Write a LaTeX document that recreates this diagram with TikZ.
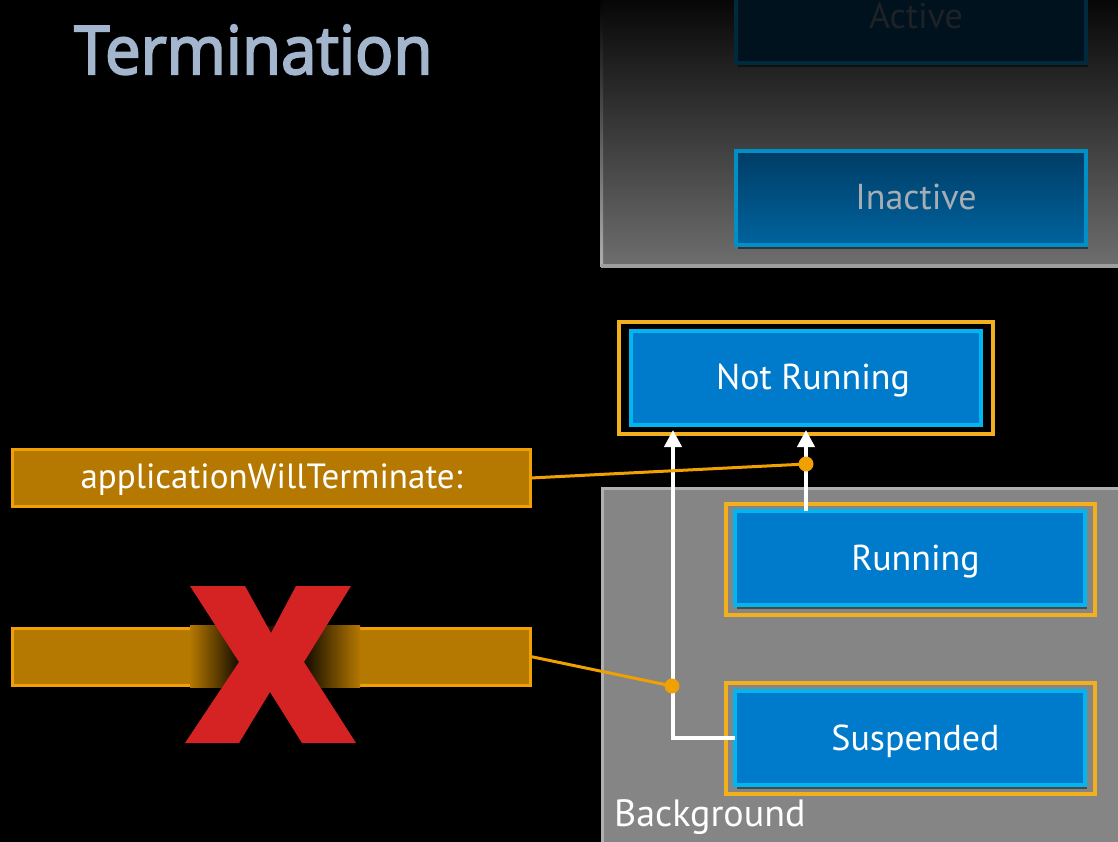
\documentclass[tikz,border=0pt]{standalone}
\usepackage{fontspec}
\setmainfont{PT Sans}
\newfontfamily\titlefont[FakeBold=3]{Open Sans}
\usetikzlibrary{arrows.meta,calc,shadows}

\definecolor{titleBlue}{HTML}{A3B6CD}
\definecolor{boxBlue}{HTML}{007BCB}
\definecolor{boxEdge}{HTML}{00B6F0}
\definecolor{frameOr}{HTML}{F2B01E}
\definecolor{lblFill}{HTML}{B57800}
\definecolor{lblEdge}{HTML}{F0A000}
\definecolor{wireOr}{HTML}{F0A000}
\definecolor{bgPanel}{HTML}{858585}
\definecolor{bgEdge}{HTML}{B0B0B0}
\definecolor{fgTop}{HTML}{050505}
\definecolor{fgBot}{HTML}{6E6E6E}
\definecolor{inTop}{HTML}{003D66}
\definecolor{inBot}{HTML}{00639E}
\definecolor{inEdge}{HTML}{0090C8}
\definecolor{inText}{HTML}{A6ADB4}
\definecolor{acFill}{HTML}{00121D}
\definecolor{acEdge}{HTML}{002A3E}
\definecolor{acText}{HTML}{1E2226}
\definecolor{crossRed}{HTML}{D52222}
\definecolor{shadeDark}{HTML}{1E1300}

\begin{document}
\begin{tikzpicture}[x=1pt,y=-1pt,
  state/.style={draw=boxEdge, line width=4pt, fill=boxBlue,
    minimum width=350pt, minimum height=94pt, inner sep=0pt, outer sep=0pt,
    text height=24pt, text depth=0pt,
    execute at begin node={\hspace*{11pt}},
    text=white, font=\fontsize{36}{40}\selectfont},
  statebox/.style={state, drop shadow={shadow xshift=2pt, shadow yshift=-4pt, opacity=0.45, fill=black}},
  orframe/.style={draw=frameOr, line width=4pt, minimum width=369pt,
    minimum height=111pt, inner sep=0pt, outer sep=0pt},
  callback/.style={draw=lblEdge, line width=3pt, fill=lblFill,
    minimum width=518pt, minimum height=57pt, inner sep=0pt, outer sep=0pt,
    text height=20pt, text depth=0pt,
    text=white, font=\fontsize{35}{40}\selectfont},
  transition/.style={draw=white, line width=4pt,
    -{Triangle[width=17pt,length=17pt]}, shorten >=-4pt},
  wire/.style={draw=wireOr, line width=3pt},
  joint/.style={circle, fill=wireOr, minimum size=15pt, inner sep=0pt, outer sep=0pt}
]
% canvas
\fill[black] (0,0) rectangle (1118,842);
\useasboundingbox (0,0) rectangle (1118,842);

% title
\node[anchor=base west, inner sep=0pt, text=titleBlue,
  font=\fontsize{67}{70}\titlefont] (title) at (74,74) {\scalebox{0.95}[1]{Termination}};

% foreground panel (upper right)
\shade[top color=fgTop, bottom color=fgBot] (601,-5) rectangle (1125,266);
\shade[top color=black, bottom color=bgEdge] (600,-5) rectangle (603,266);
\fill[bgEdge!90!black] (601,264) rectangle (1125,267.5);

\node[state, draw=acEdge, fill=acFill, text=acText,
  drop shadow={shadow xshift=2pt, shadow yshift=-4pt, opacity=0.5, fill=black}]
  (active) at (910.5,16.5) {Active};
\node[state, draw=inEdge, top color=inTop, bottom color=inBot, text=inText,
  drop shadow={shadow xshift=2pt, shadow yshift=-4pt, opacity=0.5, fill=black}]
  (inactive) at (910.5,198) {Inactive};

% background panel (lower right)
\draw[fill=bgPanel, draw=bgEdge, line width=3pt] (602,488.5) rectangle (1125,850);
\node[anchor=base west, inner sep=0pt, text=white,
  font=\fontsize{38}{42}\selectfont] (bglabel) at (614,826) {Background};

% state boxes
\node[orframe, minimum width=374pt, minimum height=112pt] (nrframe) at (806,378) {};
\node[state, execute at begin node={\hspace*{4pt}}] (notrunning) at (805.5,377.5) {Not Running};

\node[orframe] (runframe) at (910.5,559.5) {};
\node[statebox] (running) at (910,558) {Running};

\node[orframe] (suspframe) at (910.5,738.5) {};
\node[statebox] (suspended) at (910,738) {Suspended};

% transitions to Not Running
\draw[transition] (running.north -| 806,0) -- (nrframe.south -| 806,0);
\draw[transition] (suspended.west) -- (673,738) -- (nrframe.south -| 673,0);

% callbacks
\node[callback] (willterm) at (271.5,478) {applicationWillTerminate:};
\node[callback] (nocall) at (271.5,656.5) {};

% shadow of the cross on the second callback box
\shade[left color=lblFill, right color=shadeDark] (190,625.5) rectangle (236,687.5);
\fill[shadeDark] (235.5,625.5) rectangle (308.5,687.5);
\shade[left color=shadeDark, right color=lblFill] (308,625.5) rectangle (360,687.5);

% junctions and wires
\node[joint] (j1) at (806,464) {};
\node[joint] (j2) at (672,686) {};
\draw[wire] (willterm.east) -- (j1.center);
\draw[wire] (nocall.east) -- (j2.center);

% red cross
\fill[crossRed] (190,586) -- (245,586) -- (271,633) -- (296,586) -- (351,586)
  -- (304,662) -- (356,743) -- (302,743) -- (270,692) -- (239,743)
  -- (185,743) -- (239,662) -- cycle;
\end{tikzpicture}
\end{document}
